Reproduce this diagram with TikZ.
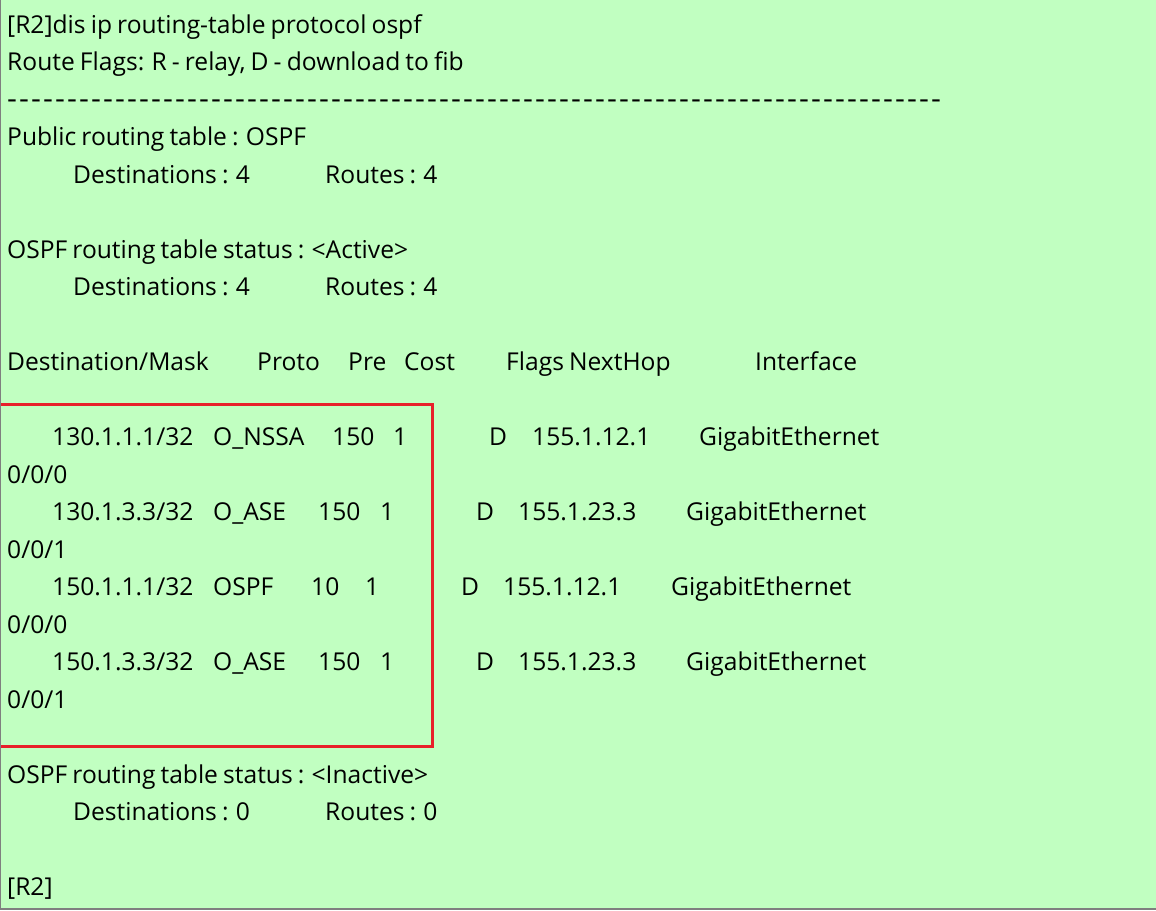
\documentclass[tikz,border=0pt]{standalone}
\usepackage{fontspec}
\newfontfamily\clifont{Open Sans}[WordSpace=0.8]
\definecolor{termbg}{HTML}{C1FFC1}
\definecolor{framegrey}{HTML}{7F7F7F}
\definecolor{markred}{HTML}{E8202A}
\begin{document}
\begin{tikzpicture}[x=1pt,y=-1pt,
        cli/.style={anchor=base west, inner sep=0pt, font=\clifont\fontsize{24.6}{24.6}\selectfont},
        highlight/.style={draw=markred, line width=3pt},
        frame/.style={draw=framegrey, line width=1.5pt},
    ]
    \fill[termbg] (0,0) rectangle (1156,910);
    \useasboundingbox (0,0) rectangle (1156,910);

    % command and flags
    \node[cli] (cmd) at (7,33) {[R2]dis ip routing-table protocol ospf};
    \node[cli] (flags) at (7,70.5) {Route Flags: R - relay, D - download to fib};
    \node[cli] (rule) at (7,108) {\foreach \i in {1,...,78}{\makebox[12pt][l]{\scalebox{1.25}[1.15]{-}}}};

    % public table
    \node[cli] (public) at (7,145.5) {Public routing table : OSPF};
    \node[cli] (pubdest) at (73,183) {Destinations : 4};
    \node[cli] (pubroutes) at (325,183) {Routes : 4};

    \node[cli] (active) at (7,258) {OSPF routing table status : <Active>};
    \node[cli] (actdest) at (73,295.5) {Destinations : 4};
    \node[cli] (actroutes) at (325,295.5) {Routes : 4};

    % column heads
    \node[cli] (hdrdest) at (7,370.5) {Destination/Mask};
    \node[cli] (hdrproto) at (257,370.5) {Proto};
    \node[cli] (hdrpre) at (348,370.5) {Pre};
    \node[cli] (hdrcost) at (404,370.5) {Cost};
    \node[cli] (hdrhop) at (506,370.5) {Flags NextHop};
    \node[cli] (hdrif) at (755,370.5) {Interface};

    % routes
    \node[cli] (destA) at (52,445.5) {130.1.1.1/32};
    \node[cli] (protoA) at (213,445.5) {O\_NSSA};
    \node[cli] (preA) at (332,445.5) {150};
    \node[cli] (costA) at (393,445.5) {1};
    \node[cli] (flagA) at (489,445.5) {D};
    \node[cli] (hopA) at (532,445.5) {155.1.12.1};
    \node[cli] (ifA) at (699,445.5) {GigabitEthernet};
    \node[cli] (portA) at (7,483) {0/0/0};

    \node[cli] (destB) at (52,520.5) {130.1.3.3/32};
    \node[cli] (protoB) at (213,520.5) {O\_ASE};
    \node[cli] (preB) at (318,520.5) {150};
    \node[cli] (costB) at (380,520.5) {1};
    \node[cli] (flagB) at (476,520.5) {D};
    \node[cli] (hopB) at (518,520.5) {155.1.23.3};
    \node[cli] (ifB) at (686,520.5) {GigabitEthernet};
    \node[cli] (portB) at (7,558) {0/0/1};

    \node[cli] (destC) at (52,595.5) {150.1.1.1/32};
    \node[cli] (protoC) at (213,595.5) {OSPF};
    \node[cli] (preC) at (311,595.5) {10};
    \node[cli] (costC) at (365,595.5) {1};
    \node[cli] (flagC) at (461,595.5) {D};
    \node[cli] (hopC) at (503,595.5) {155.1.12.1};
    \node[cli] (ifC) at (671,595.5) {GigabitEthernet};
    \node[cli] (portC) at (7,633) {0/0/0};

    \node[cli] (destD) at (52,670.5) {150.1.3.3/32};
    \node[cli] (protoD) at (213,670.5) {O\_ASE};
    \node[cli] (preD) at (318,670.5) {150};
    \node[cli] (costD) at (380,670.5) {1};
    \node[cli] (flagD) at (476,670.5) {D};
    \node[cli] (hopD) at (518,670.5) {155.1.23.3};
    \node[cli] (ifD) at (686,670.5) {GigabitEthernet};
    \node[cli] (portD) at (7,708) {0/0/1};

    \draw[highlight] (-2,404.5) rectangle (432.5,746.5);

    % inactive table
    \node[cli] (inactive) at (7,783) {OSPF routing table status : <Inactive>};
    \node[cli] (inadest) at (73,820.5) {Destinations : 0};
    \node[cli] (inaroutes) at (325,820.5) {Routes : 0};

    \node[cli] (prompt) at (7,895.5) {[R2]};

    % window edges
    \draw[frame] (0.5,0) -- (0.5,910);
    \draw[frame] (0,909) -- (1156,909);
\end{tikzpicture}
\end{document}
